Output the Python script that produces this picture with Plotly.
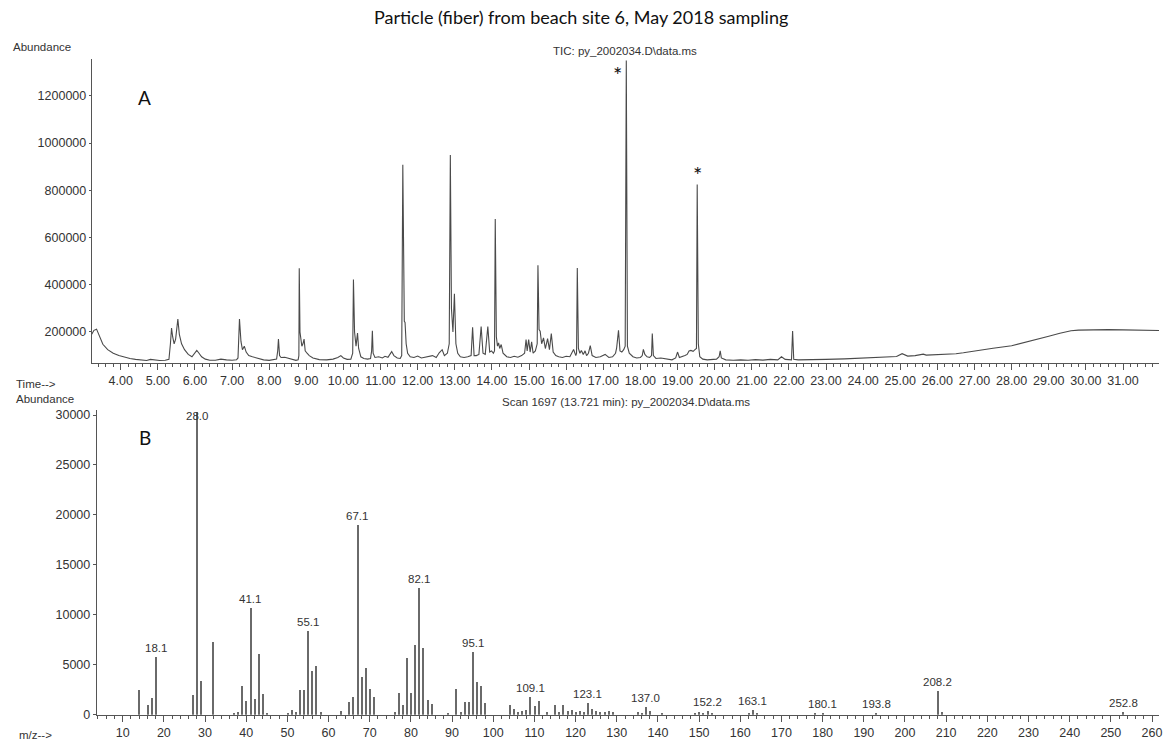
import plotly.graph_objects as go

# ---------------- Panel A: TIC chromatogram (time in min, abundance) ----------------
tic_time = [
    3.22, 3.28, 3.35, 3.42, 3.52, 3.65, 3.80, 3.95, 4.10, 4.25, 4.40, 4.55, 4.70, 4.80, 4.90, 5.05, 5.20, 5.30,
    5.34, 5.37, 5.40, 5.44, 5.48, 5.51, 5.54, 5.58, 5.64, 5.72, 5.82, 5.92, 6.00, 6.05, 6.10, 6.18, 6.28, 6.40, 6.55, 6.70, 6.85, 7.00, 7.12,
    7.16, 7.20, 7.24, 7.28, 7.33, 7.38, 7.45, 7.55, 7.68, 7.85, 8.00, 8.12, 8.20, 8.23, 8.25, 8.28, 8.32, 8.42, 8.52, 8.62, 8.72, 8.78,
    8.80, 8.81, 8.83, 8.88, 8.91, 8.94, 8.97, 9.02, 9.08, 9.18, 9.35, 9.55, 9.72, 9.85, 9.93, 10.00, 10.10, 10.20, 10.25, 10.27, 10.30,
    10.34, 10.38, 10.41, 10.47, 10.55, 10.65, 10.73, 10.76, 10.78, 10.80, 10.85, 10.95, 11.05, 11.12, 11.20, 11.26, 11.30, 11.36, 11.45, 11.53,
    11.57, 11.60, 11.62, 11.64, 11.66, 11.69, 11.73, 11.80, 11.90, 12.00, 12.10, 12.20, 12.30, 12.40, 12.50, 12.58, 12.66, 12.72, 12.80, 12.85,
    12.88, 12.91, 12.95, 12.99, 13.03, 13.08, 13.15, 13.25, 13.35, 13.44, 13.48, 13.52, 13.58, 13.65, 13.71, 13.76, 13.82, 13.89, 13.94, 13.99, 14.04,
    14.07, 14.09, 14.12, 14.15, 14.18, 14.21, 14.25, 14.30, 14.40, 14.50, 14.60, 14.70, 14.80, 14.88, 14.92, 14.95, 14.99, 15.03, 15.07, 15.11,
    15.17, 15.22, 15.24, 15.27, 15.30, 15.34, 15.39, 15.44, 15.50, 15.55, 15.60, 15.65, 15.72, 15.80, 15.90, 16.00, 16.10, 16.20, 16.26,
    16.28, 16.30, 16.33, 16.37, 16.41, 16.46, 16.51, 16.55, 16.60, 16.65, 16.70, 16.80, 16.92, 17.05, 17.15, 17.25, 17.33, 17.36, 17.41, 17.45,
    17.50, 17.55, 17.59, 17.62, 17.65, 17.70, 17.80, 17.90,
    18.00, 18.05, 18.08, 18.12, 18.18, 18.25, 18.30, 18.32, 18.35, 18.42, 18.55, 18.70, 18.85, 18.95, 19.00, 19.05, 19.12, 19.20, 19.26, 19.31,
    19.36, 19.42, 19.47, 19.51, 19.53, 19.56, 19.60, 19.68, 19.80, 19.95, 20.05, 20.12, 20.15, 20.18, 20.30, 20.50, 20.70, 20.90, 21.10, 21.30,
    21.50, 21.70, 21.80, 21.90, 22.00, 22.07, 22.10, 22.13, 22.25,
    22.50, 23.00, 23.50, 24.00, 24.50, 24.90, 25.05, 25.20, 25.40, 25.55, 25.62, 25.70, 26.00, 26.50, 26.70, 27.00, 27.50, 28.00, 28.50, 29.00,
    29.30, 29.60, 29.80, 30.20, 30.60, 31.00, 31.40, 31.97,
]
tic_abund = [
    190000, 207000, 212000, 185000, 148000, 125000, 110000, 100000, 93000, 88000, 84000, 80000, 79000, 84000, 81000, 79000, 80000, 84000,
    150000, 217000, 180000, 150000, 170000, 230000, 255000, 190000, 150000, 125000, 105000, 95000, 110000, 122000, 112000, 95000, 85000, 80000, 80000, 85000, 82000, 80000, 82000,
    90000, 255000, 160000, 125000, 140000, 115000, 100000, 95000, 88000, 82000, 80000, 82000, 85000, 120000, 170000, 100000, 92000, 93000, 88000, 82000, 80000, 82000,
    100000, 470000, 200000, 140000, 150000, 170000, 120000, 110000, 100000, 90000, 83000, 82000, 85000, 92000, 100000, 90000, 84000, 85000, 110000, 422000, 200000,
    140000, 195000, 130000, 95000, 88000, 85000, 88000, 120000, 205000, 110000, 92000, 95000, 90000, 97000, 93000, 105000, 117000, 100000, 90000, 88000,
    100000, 908000, 300000, 245000, 240000, 150000, 110000, 95000, 92000, 98000, 90000, 93000, 95000, 100000, 92000, 112000, 125000, 100000, 110000, 150000,
    950000, 300000, 200000, 362000, 150000, 110000, 95000, 92000, 95000, 100000, 220000, 100000, 100000, 105000, 223000, 110000, 105000, 223000, 115000, 120000, 110000,
    120000, 679000, 180000, 140000, 154000, 130000, 147000, 110000, 95000, 92000, 97000, 93000, 100000, 110000, 168000, 120000, 168000, 115000, 158000, 110000,
    120000, 150000, 483000, 210000, 203000, 150000, 175000, 130000, 172000, 125000, 193000, 115000, 100000, 95000, 92000, 97000, 95000, 126000, 100000,
    110000, 471000, 130000, 110000, 122000, 105000, 120000, 100000, 110000, 142000, 100000, 92000, 95000, 105000, 92000, 95000, 110000, 133000, 207000, 120000,
    115000, 125000, 140000, 1350000, 140000, 110000, 95000, 90000,
    92000, 100000, 126000, 105000, 95000, 92000, 100000, 193000, 100000, 88000, 90000, 85000, 82000, 90000, 115000, 92000, 95000, 100000, 105000, 120000,
    122000, 118000, 125000, 130000, 825000, 150000, 95000, 85000, 82000, 83000, 85000, 95000, 120000, 90000, 82000, 80000, 82000, 80000, 83000, 81000,
    84000, 82000, 95000, 84000, 82000, 82000, 204000, 84000, 82000,
    82000, 84000, 86000, 89000, 92000, 96000, 108000, 98000, 100000, 104000, 106000, 102000, 104000, 108000, 112000, 120000, 131000, 142000, 161000, 182000,
    195000, 205000, 208000, 210000, 210000, 209000, 208000, 206000,
]
assert len(tic_time) == len(tic_abund)

# peaks marked with an asterisk (retention time)
starred_peaks = [17.62, 19.53]

# ---------------- Panel B: mass spectrum (m/z, abundance) ----------------
ms_mz = [
    14, 16, 17, 18, 27, 28, 29, 32,
    37, 38, 39, 40, 41, 42, 43, 44, 45,
    50, 51, 52, 53, 54, 55, 56, 57, 58,
    63, 65, 66, 67, 68, 69, 70, 71,
    76, 77, 78, 79, 80, 81, 82, 83, 84, 85,
    89, 91, 92, 93, 94, 95, 96, 97, 98,
    104, 105, 106, 107, 108, 109, 110, 111,
    113, 115, 116, 117, 118, 119, 120, 121, 122, 123, 124, 125, 126, 127, 128, 129,
    135, 136, 137, 138, 141, 149, 150, 151, 152, 153,
    162, 163, 164, 178, 180, 193, 208, 209, 253,
]
ms_abund = [
    2470, 1000, 1650, 5800, 1990, 30300, 3400, 7250,
    200, 300, 2870, 1390, 10700, 1590, 6100, 2100, 200,
    150, 450, 250, 2470, 2470, 8400, 4390, 4860, 300,
    400, 1280, 1790, 19000, 3780, 4700, 2630, 1790,
    300, 2200, 950, 5700, 2220, 6980, 12650, 6650, 1480, 1080,
    200, 2580, 300, 1320, 1320, 6320, 3320, 2920, 1150,
    1000, 600, 300, 400, 500, 1820, 880, 1380,
    300, 1000, 300, 1000, 400, 500, 300, 400, 300, 1170, 600, 400, 300, 300, 400, 300,
    300, 200, 750, 400, 200, 200, 300, 200, 400, 200,
    200, 500, 200, 200, 200, 200, 2350, 300, 300,
]
assert len(ms_mz) == len(ms_abund)

label_mz = [18, 28, 41, 55, 67, 82, 95, 109, 123, 137, 152, 163, 180, 193, 208, 253]
label_text = ["18.1", "28.0", "41.1", "55.1", "67.1", "82.1", "95.1", "109.1",
              "123.1", "137.0", "152.2", "163.1", "180.1", "193.8", "208.2", "252.8"]

top_yticks = [200000, 400000, 600000, 800000, 1000000, 1200000]
bot_yticks = [0, 5000, 10000, 15000, 20000, 25000, 30000]

# ---------------- figure ----------------
W, H = 1165, 748
AX = "#555555"
TXT = "#333333"
TF = "Liberation Sans, Arial, sans-serif"
CAL = "Lato, Carlito, Calibri, sans-serif"

fig = go.Figure()
fig.add_trace(go.Scatter(x=tic_time, y=tic_abund, mode="lines",
                         line=dict(color="#4a4a4a", width=1.1),
                         xaxis="x", yaxis="y", hoverinfo="skip"))
fig.add_trace(go.Bar(x=ms_mz, y=ms_abund, width=0.27,
                     marker=dict(color="#6a6a6a", line=dict(width=0)),
                     xaxis="x2", yaxis="y2", hoverinfo="skip"))

def px(x):
    return x / W

def py(y):
    return 1 - y / H

common_axis = dict(showgrid=False, zeroline=False, showline=True, linecolor=AX, linewidth=1,
                   ticks="outside", tickcolor=AX, ticklabeloverflow="allow",
                   tickfont=dict(family=TF, size=12.5, color=TXT))

fig.update_layout(
    width=W, height=H, autosize=False,
    margin=dict(l=0, r=0, t=0, b=0),
    paper_bgcolor="white", plot_bgcolor="white",
    showlegend=False, bargap=0,
    xaxis=dict(common_axis, domain=[px(92), px(1162)], range=[3.221, 31.97],
               tick0=4, dtick=1, tickformat=".2f", ticklen=6,
               minor=dict(tick0=4, dtick=0.2, ticklen=3, ticks="outside", tickcolor=AX),
               anchor="y"),
    yaxis=dict(common_axis, domain=[py(365), py(58)], range=[70300, 1354800],
               tickvals=top_yticks, ticktext=[str(v) for v in top_yticks], ticklen=2,
               anchor="x"),
    xaxis2=dict(common_axis, domain=[px(97), px(1162)], range=[3.70, 261.7],
                tick0=0, dtick=10, ticklen=6,
                minor=dict(tick0=0, dtick=2, ticklen=3, ticks="outside", tickcolor=AX),
                anchor="y2"),
    yaxis2=dict(common_axis, domain=[py(721.5), py(413)], range=[0, 30500],
                tickvals=bot_yticks, ticktext=[str(v) for v in bot_yticks], ticklen=3,
                anchor="x2"),
)

ann = []
# title and headers
ann.append(dict(text="Particle (fiber) from beach site 6, May 2018 sampling", x=px(583), y=py(15),
                xref="paper", yref="paper", showarrow=False, xanchor="center", yanchor="middle",
                font=dict(family=CAL, size=18, color="#111111")))
ann.append(dict(text="TIC: py_2002034.D\\data.ms", x=px(627), y=py(50), xref="paper", yref="paper",
                showarrow=False, xanchor="center", yanchor="middle", font=dict(family=TF, size=11.5, color=TXT)))
ann.append(dict(text="Scan 1697 (13.721 min): py_2002034.D\\data.ms", x=px(628), y=py(405), xref="paper",
                yref="paper", showarrow=False, xanchor="center", yanchor="middle",
                font=dict(family=TF, size=11.5, color=TXT)))
for txt, xx, yy in [("Abundance", 11, 46), ("Time-->", 14, 387), ("Abundance", 14, 402), ("m/z-->", 17, 742)]:
    ann.append(dict(text=txt, x=px(xx), y=py(yy), xref="paper", yref="paper", showarrow=False,
                    xanchor="left", yanchor="middle", font=dict(family=TF, size=11.5, color=TXT)))
for txt, xx, yy in [("A", 145, 97), ("B", 145, 441)]:
    ann.append(dict(text=txt, x=px(xx), y=py(yy), xref="paper", yref="paper", showarrow=False,
                    xanchor="center", yanchor="middle", font=dict(family=CAL, size=19, color="#111111")))

# asterisks on the two marked peaks
tic_lookup = dict(zip(tic_time, tic_abund))
star_shift = [(-9, -14), (0, 10)]
for t, (dx, dy) in zip(starred_peaks, star_shift):
    ann.append(dict(text="*", x=t, y=tic_lookup[t], xref="x", yref="y", showarrow=False,
                    xanchor="center", yanchor="middle", xshift=dx, yshift=dy,
                    font=dict(family=CAL, size=22, color="#111111")))

# m/z peak labels
ms_lookup = dict(zip(ms_mz, ms_abund))
for m, txt in zip(label_mz, label_text):
    h = min(ms_lookup[m], 29000)
    ann.append(dict(text=txt, x=m, y=h, xref="x2", yref="y2", showarrow=False,
                    xanchor="center", yanchor="bottom", yshift=1,
                    font=dict(family=TF, size=11.5, color=TXT)))

fig.update_layout(annotations=ann)
fig.write_html("out.html")
